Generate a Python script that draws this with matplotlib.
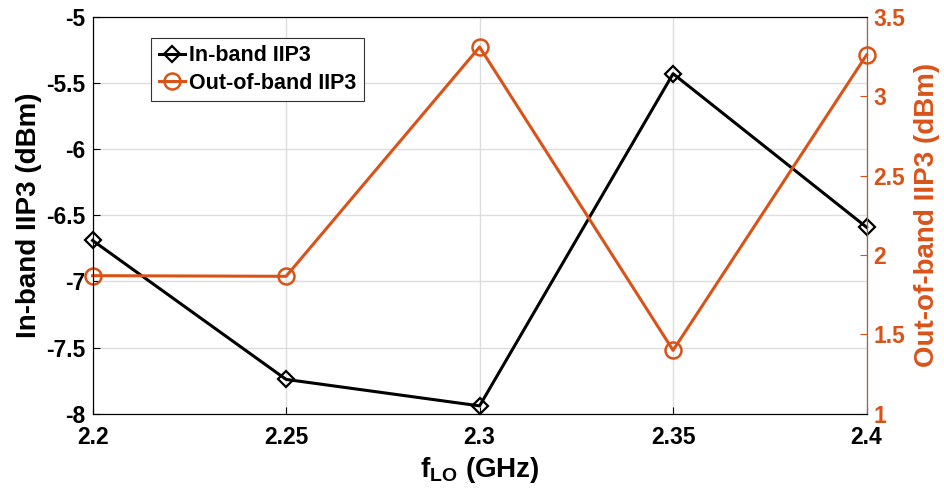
import matplotlib.pyplot as plt
import numpy as np

plt.rcParams['font.family'] = ['Liberation Sans', 'DejaVu Sans']
plt.rcParams['font.weight'] = 'bold'
plt.rcParams['mathtext.fontset'] = 'custom'
plt.rcParams['mathtext.rm'] = 'Liberation Sans:bold'
plt.rcParams['mathtext.bf'] = 'Liberation Sans:bold'

# Данные
f_lo = [2.2, 2.25, 2.3, 2.35, 2.4]
iip3_in = [-6.69, -7.74, -7.94, -5.43, -6.59]
iip3_out = [1.87, 1.866, 3.31, 1.40, 3.26]
x_ticks = [2.2, 2.25, 2.3, 2.35, 2.4]
x_labels = ['2.2', '2.25', '2.3', '2.35', '2.4']
left_ticks = [-5, -5.5, -6, -6.5, -7, -7.5, -8]
right_ticks = [1, 1.5, 2, 2.5, 3, 3.5]

orange = '#D95319'

fig = plt.figure(figsize=(9.45, 4.95), dpi=100)
ax1 = fig.add_axes([0.098, 0.164, 0.819, 0.802])
ax2 = ax1.twinx()

l1, = ax1.plot(f_lo, iip3_in, color='black', marker='D', markersize=8.5,
               markerfacecolor='none', markeredgewidth=1.6, linewidth=2.2,
               label='In-band IIP3', clip_on=False)
l2, = ax2.plot(f_lo, iip3_out, color=orange, marker='o', markersize=11.5,
               markerfacecolor='none', markeredgewidth=1.8, linewidth=2.2,
               label='Out-of-band IIP3', clip_on=False)

ax1.set_xlim(2.2, 2.4)
ax1.set_ylim(-8, -5)
ax2.set_ylim(1, 3.5)
ax1.set_xticks(x_ticks)
ax1.set_xticklabels(x_labels)
ax1.set_yticks(left_ticks)
ax1.set_yticklabels([f'{v:g}' for v in left_ticks])
ax2.set_yticks(right_ticks)
ax2.set_yticklabels([f'{v:g}' for v in right_ticks])

ax1.grid(True, color='#dddddd', linewidth=1.0)
ax1.set_axisbelow(True)

ax1.tick_params(axis='both', direction='in', labelsize=16.5, length=5, width=0.8)
ax2.tick_params(axis='y', direction='in', labelsize=16.5, length=5, width=0.8,
                colors=orange, labelcolor=orange, pad=5)
ax1.tick_params(axis='x', pad=9)
ax1.tick_params(axis='y', pad=5)

for ax in (ax1, ax2):
    for s in ax.spines.values():
        s.set_linewidth(0.8)
ax2.spines['right'].set_color(orange)

ax1.set_xlabel(r'f$_{\mathrm{LO}}$ (GHz)', fontsize=20, fontweight='bold', labelpad=4)
ax1.set_ylabel('In-band IIP3 (dBm)', fontsize=20, fontweight='bold', labelpad=3)
ax2.set_ylabel('Out-of-band IIP3 (dBm)', fontsize=20, fontweight='bold',
               color=orange, labelpad=6)

leg = ax1.legend(handles=[l1, l2], loc='upper left', bbox_to_anchor=(0.076, 0.947),
                 fontsize=15.5, handlelength=1.2, handletextpad=0.2,
                 borderaxespad=0, fancybox=False, edgecolor='#333333',
                 framealpha=1, borderpad=0.35, labelspacing=0.3)
leg.get_frame().set_linewidth(0.8)

plt.savefig('out.png', dpi=100)
